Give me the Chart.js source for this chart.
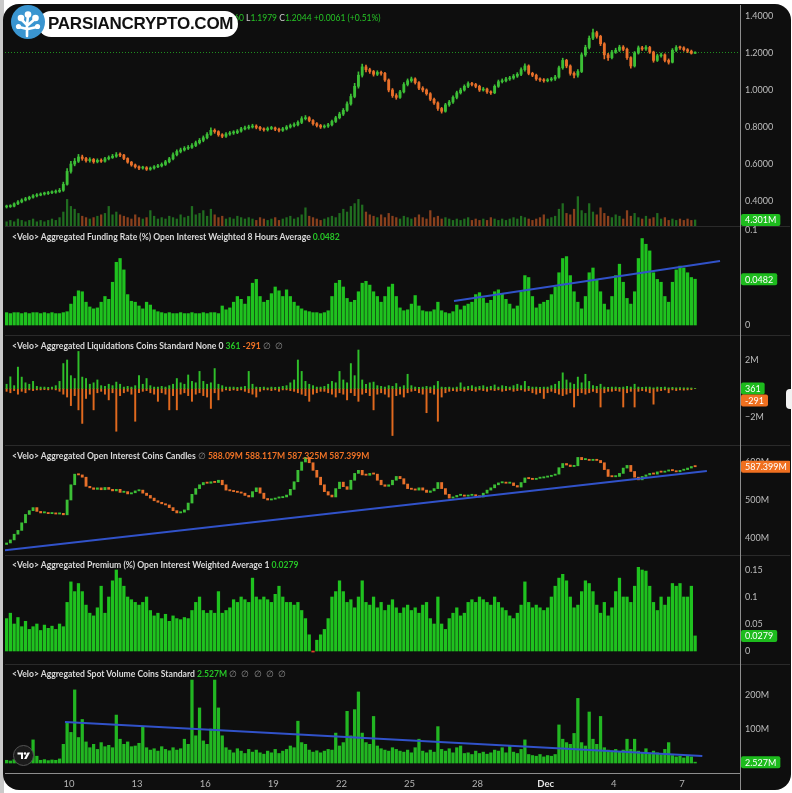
<!DOCTYPE html>
<html><head><meta charset="utf-8">
<script src="https://cdn.jsdelivr.net/npm/chart.js@4.4.1/dist/chart.umd.min.js"></script>
<style>
html,body{margin:0;padding:0}
body{width:792px;height:793px;overflow:hidden;background:#ffffff;position:relative;font-family:Lato,'Noto Sans',sans-serif}
.abs{position:absolute}
#leftStrip{left:0;top:0;width:4px;height:793px;background:#c9c9c9}
#frame{left:3px;top:4px;width:788px;height:786px;background:#0e0e0e;border-radius:16px}
.sep{left:5px;width:785px;height:1px;background:#2a2a2a}
#axisLine{left:740px;top:5px;width:1px;height:785px;background:#8d8d8d}
.pane{left:5px;width:785px}
.title{left:12px;font-size:8.6px;font-weight:700;color:#dadada;white-space:nowrap;line-height:12px}
.g{color:#26c426}.o{color:#f07326}.n{color:#8a8a8a;font-weight:400;word-spacing:2px}
.hdr{top:12px;font-size:8.5px;color:#cfcfcf;white-space:nowrap;line-height:12px}
#pill{left:38px;top:11px;width:200px;height:26px;background:#fff;border-radius:13px}
#pillText{left:48px;top:11px;height:26px;line-height:26px;font-family:'Liberation Sans',Arial,sans-serif;font-weight:700;font-size:17px;color:#111;letter-spacing:-0.25px;white-space:nowrap}
#logo{left:11px;top:5px;width:34px;height:34px}
#tv{left:13px;top:745px;width:21px;height:21px}
#tab{left:786px;top:389px;width:6px;height:20px;background:#f2f2f2;border-radius:4px 0 0 4px}
</style></head>
<body>
<div id="leftStrip" class="abs"></div>
<div id="frame" class="abs"></div>
<div class="abs sep" style="top:226px"></div>
<div class="abs sep" style="top:335px"></div>
<div class="abs sep" style="top:445px"></div>
<div class="abs sep" style="top:555px"></div>
<div class="abs sep" style="top:664px"></div>
<div id="axisLine" class="abs"></div>

<div class="abs pane" style="top:5px;height:221px"><canvas id="c1" width="785" height="221"></canvas></div>
<div class="abs pane" style="top:226px;height:109px"><canvas id="c2" width="785" height="109"></canvas></div>
<div class="abs pane" style="top:335px;height:110px"><canvas id="c3" width="785" height="110"></canvas></div>
<div class="abs pane" style="top:445px;height:110px"><canvas id="c4" width="785" height="110"></canvas></div>
<div class="abs pane" style="top:555px;height:109px"><canvas id="c5" width="785" height="109"></canvas></div>
<div class="abs pane" style="top:664px;height:126px"><canvas id="c6" width="785" height="126"></canvas></div>

<div class="abs hdr" style="right:548px"><span>O</span><span class="g" id="hO"></span> <span>H</span><span class="g" id="hH"></span></div>
<div class="abs hdr" style="left:246px"><span>L</span><span class="g" id="hL"></span> <span>C</span><span class="g" id="hC"></span> <span class="g" id="hChg"></span></div>
<div id="pill" class="abs"></div>
<div id="pillText" class="abs">PARSIANCRYPTO.COM</div>
<svg id="logo" class="abs" viewBox="0 0 34 34">
  <circle cx="17" cy="17" r="17" fill="#3a95d0"/>
  <path d="M16 31 L16 20 L10 14 M16 20 L17 11 M17 20 L24 14 M16 24 L8 22 M17 24 L26 22" stroke="#fff" stroke-width="2.6" fill="none" stroke-linecap="round"/>
  <circle cx="10" cy="13" r="3.3" fill="#fff"/><circle cx="17" cy="9.5" r="3.3" fill="#fff"/>
  <circle cx="24.5" cy="13" r="3.3" fill="#fff"/><circle cx="7.5" cy="21.5" r="2.6" fill="#fff"/>
  <circle cx="26.5" cy="21.5" r="2.6" fill="#fff"/>
</svg>

<div class="abs title" style="top:231px">&lt;Velo&gt; Aggregated Funding Rate (%) Open Interest Weighted 8 Hours Average <span class="g" id="tFund"></span></div>
<div class="abs title" style="top:340px">&lt;Velo&gt; Aggregated Liquidations Coins Standard None 0 <span class="g" id="tLiqS"></span> <span class="o" id="tLiqL"></span> <span class="n">∅ ∅</span></div>
<div class="abs title" style="top:450px">&lt;Velo&gt; Aggregated Open Interest Coins Candles <span class="n">∅</span> <span class="o" id="tOI"></span></div>
<div class="abs title" style="top:559px">&lt;Velo&gt; Aggregated Premium (%) Open Interest Weighted Average 1 <span class="g" id="tPrem"></span></div>
<div class="abs title" style="top:668px">&lt;Velo&gt; Aggregated Spot Volume Coins Standard <span class="g" id="tSpot"></span> <span class="n">∅ ∅ ∅ ∅ ∅</span></div>

<svg id="tv" class="abs" viewBox="0 0 21 21">
  <circle cx="10.5" cy="10.5" r="10" fill="#1b1b1b" stroke="#555" stroke-width="1"/>
  <path d="M4.5 7.5 H10 V14 H8 V9.5 H4.5 Z" fill="#fff"/>
  <circle cx="12" cy="8.5" r="1.3" fill="#fff"/>
  <path d="M14.5 7.5 H17 L13.5 14 H11 Z" fill="#fff"/>
</svg>
<div id="tab" class="abs"></div>

<script>
// ---------------- DATA (4-hour bars, day numbers counted from Nov 1; 31 = Dec 1) ----------------
const barStartDay = 7.25;
const barStepDays = 1 / 6;

const priceOpen = [0.368,0.370,0.372,0.385,0.395,0.405,0.412,0.420,0.428,0.432,
0.438,0.440,0.445,0.448,0.452,0.458,0.490,0.560,0.600,0.615,
0.638,0.630,0.618,0.625,0.612,0.620,0.615,0.628,0.635,0.642,
0.650,0.648,0.630,0.610,0.595,0.585,0.578,0.580,0.572,0.578,
0.585,0.590,0.598,0.612,0.628,0.650,0.668,0.676,0.685,0.690,
0.700,0.715,0.728,0.742,0.760,0.782,0.775,0.758,0.750,0.762,
0.768,0.770,0.778,0.790,0.795,0.800,0.805,0.798,0.790,0.785,
0.792,0.795,0.788,0.782,0.790,0.800,0.808,0.812,0.825,0.845,
0.850,0.835,0.818,0.808,0.800,0.805,0.812,0.830,0.850,0.870,
0.890,0.925,0.965,1.020,1.080,1.125,1.110,1.100,1.085,1.095,
1.090,1.054,1.000,0.970,0.960,0.990,1.030,1.050,1.060,1.040,
1.010,1.000,0.980,0.950,0.930,0.900,0.885,0.920,0.935,0.960,
0.985,1.000,1.020,1.035,1.030,1.020,1.000,1.005,0.990,0.985,
1.020,1.045,1.050,1.060,1.065,1.075,1.085,1.110,1.130,1.090,
1.080,1.060,1.055,1.050,1.055,1.060,1.070,1.120,1.160,1.130,
1.090,1.080,1.100,1.190,1.230,1.280,1.310,1.290,1.250,1.190,
1.175,1.205,1.215,1.232,1.220,1.175,1.130,1.200,1.228,1.222,
1.230,1.205,1.160,1.185,1.190,1.160,1.150,1.215,1.230,1.228,
1.218,1.210,1.1983];
const priceHigh = [0.378,0.380,0.390,0.402,0.412,0.420,0.426,0.435,0.440,0.444,
0.448,0.452,0.455,0.460,0.468,0.502,0.575,0.615,0.630,0.652,
0.648,0.636,0.634,0.630,0.628,0.628,0.636,0.644,0.652,0.662,
0.660,0.652,0.634,0.614,0.600,0.590,0.588,0.586,0.584,0.592,
0.598,0.606,0.620,0.636,0.660,0.676,0.686,0.694,0.700,0.710,
0.724,0.738,0.752,0.770,0.795,0.790,0.780,0.764,0.770,0.776,
0.780,0.786,0.798,0.805,0.810,0.815,0.812,0.804,0.796,0.800,
0.804,0.800,0.794,0.798,0.808,0.816,0.822,0.834,0.856,0.862,
0.856,0.840,0.824,0.814,0.812,0.820,0.838,0.858,0.880,0.900,
0.936,0.978,1.036,1.098,1.140,1.135,1.118,1.106,1.104,1.102,
1.096,1.060,1.008,0.980,0.998,1.040,1.060,1.070,1.066,1.046,
1.018,1.006,0.986,0.956,0.936,0.906,0.928,0.944,0.968,0.994,
1.010,1.028,1.044,1.042,1.036,1.026,1.014,1.010,0.996,1.028,
1.054,1.060,1.068,1.074,1.084,1.094,1.120,1.142,1.136,1.096,
1.086,1.066,1.062,1.062,1.068,1.080,1.130,1.172,1.166,1.136,
1.098,1.110,1.200,1.242,1.292,1.330,1.318,1.296,1.256,1.198,
1.214,1.226,1.242,1.240,1.226,1.180,1.208,1.238,1.236,1.240,
1.236,1.210,1.194,1.200,1.196,1.168,1.224,1.240,1.238,1.234,
1.224,1.216,1.2060];
const priceLow = [0.362,0.365,0.368,0.380,0.390,0.400,0.406,0.415,0.422,0.428,
0.432,0.435,0.440,0.442,0.446,0.452,0.485,0.550,0.590,0.608,
0.620,0.610,0.610,0.604,0.606,0.608,0.610,0.622,0.630,0.636,
0.640,0.624,0.604,0.588,0.578,0.570,0.572,0.565,0.566,0.572,
0.580,0.584,0.592,0.606,0.622,0.644,0.660,0.670,0.678,0.684,
0.694,0.708,0.720,0.736,0.754,0.766,0.750,0.742,0.744,0.755,
0.760,0.764,0.772,0.784,0.788,0.794,0.790,0.782,0.778,0.778,
0.786,0.780,0.774,0.776,0.784,0.794,0.800,0.806,0.818,0.838,
0.828,0.810,0.800,0.792,0.794,0.798,0.806,0.824,0.844,0.862,
0.884,0.918,0.958,1.010,1.070,1.098,1.090,1.075,1.078,1.080,
1.046,0.990,0.960,0.950,0.954,0.984,1.022,1.042,1.032,1.002,
0.990,0.972,0.942,0.922,0.890,0.875,0.880,0.912,0.928,0.952,
0.978,0.994,1.012,1.022,1.012,0.992,0.994,0.982,0.976,0.980,
1.014,1.038,1.044,1.052,1.058,1.068,1.078,1.102,1.082,1.072,
1.052,1.046,1.042,1.044,1.048,1.052,1.064,1.112,1.120,1.080,
1.066,1.070,1.094,1.182,1.222,1.272,1.280,1.240,1.168,1.160,
1.168,1.198,1.208,1.212,1.166,1.118,1.124,1.194,1.214,1.214,
1.198,1.150,1.154,1.178,1.152,1.140,1.146,1.208,1.220,1.210,
1.202,1.194,1.1979];
const priceClose = [0.370,0.372,0.385,0.395,0.405,0.412,0.420,0.428,0.432,0.438,
0.440,0.445,0.448,0.452,0.458,0.490,0.560,0.600,0.615,0.638,
0.630,0.618,0.625,0.612,0.620,0.615,0.628,0.635,0.642,0.650,
0.648,0.630,0.610,0.595,0.585,0.578,0.580,0.572,0.578,0.585,
0.590,0.598,0.612,0.628,0.650,0.668,0.676,0.685,0.690,0.700,
0.715,0.728,0.742,0.760,0.782,0.775,0.758,0.750,0.762,0.768,
0.770,0.778,0.790,0.795,0.800,0.805,0.798,0.790,0.785,0.792,
0.795,0.788,0.782,0.790,0.800,0.808,0.812,0.825,0.845,0.850,
0.835,0.818,0.808,0.800,0.805,0.812,0.830,0.850,0.870,0.890,
0.925,0.965,1.020,1.080,1.125,1.110,1.100,1.085,1.095,1.090,
1.054,1.000,0.970,0.960,0.990,1.030,1.050,1.060,1.040,1.010,
1.000,0.980,0.950,0.930,0.900,0.885,0.920,0.935,0.960,0.985,
1.000,1.020,1.035,1.030,1.020,1.000,1.005,0.990,0.985,1.020,
1.045,1.050,1.060,1.065,1.075,1.085,1.110,1.130,1.090,1.080,
1.060,1.055,1.050,1.055,1.060,1.070,1.120,1.160,1.130,1.090,
1.080,1.100,1.190,1.230,1.280,1.310,1.290,1.250,1.190,1.175,
1.205,1.215,1.232,1.220,1.175,1.130,1.200,1.228,1.222,1.230,
1.205,1.160,1.185,1.190,1.160,1.150,1.215,1.230,1.228,1.218,
1.210,1.1983,1.2044];
// volume in millions
const priceVolume = [3,4,3,5,4,3,4,5,3,4,
3,4,5,4,6,10,19,14,12,9,
7,6,5,6,7,8,9,14,8,10,
8,7,6,5,8,6,5,6,11,7,
5,6,5,7,6,5,8,6,7,14,
8,9,11,7,12,8,6,7,5,6,
5,7,6,5,6,5,4,6,5,4,
5,6,4,5,6,7,5,6,8,13,
7,6,5,4,5,6,7,6,9,12,
10,14,16,19,15,10,8,7,6,8,
6,9,7,6,5,7,6,5,6,8,
6,5,11,6,7,5,6,5,4,5,
4,5,6,4,5,4,5,4,6,5,
4,5,4,5,6,5,7,6,5,4,
5,6,8,5,6,7,12,16,9,8,
12,21,11,9,16,10,8,13,9,7,
6,8,7,5,11,7,9,6,5,7,
5,6,9,5,6,4,5,4,5,4,
5,4,4.301];
const fundingRate = [0.013,0.012,0.013,0.013,0.012,0.013,0.012,0.013,0.013,0.012,
0.013,0.012,0.013,0.012,0.012,0.013,0.014,0.022,0.030,0.036,
0.035,0.024,0.019,0.017,0.018,0.024,0.030,0.027,0.045,0.066,
0.070,0.058,0.032,0.025,0.024,0.020,0.017,0.024,0.021,0.016,
0.014,0.013,0.012,0.013,0.012,0.012,0.013,0.012,0.012,0.013,
0.012,0.012,0.013,0.012,0.013,0.013,0.012,0.020,0.016,0.018,
0.024,0.030,0.027,0.022,0.030,0.044,0.048,0.030,0.024,0.026,
0.033,0.040,0.036,0.030,0.037,0.030,0.024,0.020,0.017,0.015,
0.014,0.013,0.013,0.012,0.013,0.015,0.030,0.044,0.047,0.040,
0.028,0.024,0.026,0.035,0.044,0.046,0.042,0.035,0.030,0.024,
0.030,0.040,0.043,0.030,0.018,0.015,0.016,0.022,0.031,0.020,
0.015,0.014,0.014,0.016,0.024,0.015,0.013,0.012,0.014,0.021,
0.016,0.020,0.022,0.024,0.032,0.034,0.028,0.023,0.026,0.035,
0.037,0.033,0.027,0.022,0.017,0.020,0.035,0.052,0.050,0.030,
0.018,0.022,0.024,0.026,0.032,0.040,0.055,0.070,0.072,0.052,
0.035,0.024,0.017,0.030,0.055,0.060,0.048,0.035,0.022,0.016,
0.030,0.052,0.064,0.045,0.028,0.022,0.035,0.070,0.091,0.085,
0.078,0.055,0.048,0.045,0.030,0.024,0.045,0.058,0.062,0.060,
0.055,0.050,0.0482];
// liquidations in millions of coins (shorts positive, longs negative)
const liqShorts = [0.3,0.82,0.2,1.5,0.8,0.4,0.3,0.5,0.15,0.1,
0.1,0.08,0.1,0.2,0.5,1.75,2.0,0.9,0.7,2.6,
0.8,0.7,0.3,0.4,0.6,0.2,0.15,0.3,0.2,0.45,
0.3,0.1,0.15,0.1,0.2,0.9,0.3,0.7,0.2,0.1,
0.1,0.15,0.1,0.2,0.3,0.7,0.4,0.3,0.95,0.5,
0.4,1.2,0.5,0.3,0.4,1.4,0.3,0.2,0.1,0.1,
0.1,0.08,0.1,0.15,1.2,0.3,0.1,0.08,0.1,0.05,
0.1,0.08,0.1,0.15,0.2,0.4,0.6,2.0,1.2,0.5,
0.3,0.2,0.1,0.1,0.15,0.3,0.5,0.4,1.2,0.6,
0.4,1.75,0.9,2.7,0.6,0.3,0.4,0.45,0.2,0.15,
0.1,0.2,0.15,0.35,0.1,0.2,1.0,0.2,0.1,0.08,
0.1,0.15,0.1,0.2,0.5,0.1,0.08,0.1,0.05,0.1,
0.4,0.1,0.15,0.2,0.1,0.15,0.2,0.1,0.15,0.25,
0.1,0.2,0.15,0.1,0.2,0.3,0.2,0.5,0.15,0.1,
0.1,0.08,0.1,0.1,0.2,0.3,0.5,1.1,0.6,0.4,
0.3,0.8,0.4,1.0,0.5,0.2,0.15,0.3,0.1,0.08,
0.1,0.1,0.08,0.1,0.15,0.1,0.3,0.1,0.08,0.1,
0.1,0.05,0.1,0.08,0.1,0.05,0.08,0.05,0.06,0.05,
0.05,0.04,0.000361];
const liqLongs = [-0.2,-0.3,-0.15,-0.4,-0.2,-0.3,-0.1,-0.15,-0.1,-0.1,
-0.08,-0.1,-0.05,-0.1,-0.2,-0.4,-0.6,-1.2,-0.5,-1.5,
-2.45,-0.7,-0.4,-1.5,-0.3,-0.2,-0.4,-0.8,-0.3,-3.0,
-0.5,-0.3,-0.2,-0.4,-2.3,-0.3,-0.2,-0.15,-0.3,-0.4,
-0.9,-0.3,-0.4,-1.5,-0.5,-1.5,-0.4,-0.3,-0.5,-0.9,
-0.4,-0.3,-0.5,-0.6,-1.4,-0.3,-0.8,-0.2,-0.1,-0.15,
-0.1,-0.15,-0.1,-0.2,-0.3,-0.4,-0.6,-0.2,-0.1,-0.1,
-0.15,-0.1,-0.2,-0.1,-0.1,-0.15,-0.2,-0.3,-0.4,-0.5,
-0.9,-0.4,-0.3,-0.2,-0.2,-0.3,-0.4,-0.6,-0.3,-0.4,
-0.8,-0.3,-0.5,-0.9,-0.4,-0.3,-0.5,-1.5,-0.4,-0.3,
-0.4,-0.6,-3.3,-0.5,-0.4,-0.6,-0.3,-0.2,-0.15,-0.3,
-0.4,-1.7,-0.3,-0.4,-2.3,-0.6,-0.3,-0.2,-0.15,-0.2,
-0.15,-0.2,-0.1,-0.15,-0.2,-0.1,-0.15,-0.2,-0.1,-0.15,
-0.1,-0.2,-0.15,-0.1,-0.2,-0.15,-0.1,-0.2,-0.15,-0.3,
-0.4,-0.3,-0.7,-0.3,-0.2,-0.3,-0.4,-0.5,-0.4,-0.3,
-1.3,-0.5,-0.3,-0.4,-0.3,-0.2,-0.3,-1.3,-0.3,-0.2,
-0.2,-0.15,-0.2,-1.3,-0.3,-0.2,-1.3,-0.2,-0.15,-0.2,
-0.3,-1.1,-0.2,-0.15,-0.1,-0.3,-0.1,-0.15,-0.1,-0.12,
-0.1,-0.08,-0.000291];
// open interest in millions of coins
const oiOpen = [383,387,395,410,420,440,462,472,480,470,
466,467,464,466,463,465,461,500,540,568,
566,560,536,532,528,532,527,533,528,524,
528,520,522,516,519,524,526,518,512,505,
498,494,490,487,480,472,466,468,474,492,
515,530,540,546,544,548,546,552,540,526,
524,522,520,518,512,508,522,532,518,504,
500,502,505,506,508,513,528,548,578,600,
612,598,578,560,540,522,513,508,530,547,
535,528,552,570,578,566,565,570,568,552,
540,536,540,552,562,556,542,530,528,526,
532,526,520,524,530,546,530,515,505,508,
512,513,510,512,514,510,508,518,526,532,
540,545,546,544,545,538,534,546,558,556,
554,557,558,560,562,565,568,585,596,592,
588,590,612,606,606,604,605,604,598,580,
562,561,562,570,584,591,575,560,553,562,
566,570,568,574,573,576,579,577,574,578,
580,584,588.09];
const oiClose = [387,395,410,420,440,462,472,480,470,466,
467,464,466,463,465,461,500,540,568,566,
560,536,532,528,532,527,533,528,524,528,
520,522,516,519,524,526,518,512,505,498,
494,490,487,480,472,466,468,474,492,515,
530,540,546,544,548,546,552,540,526,524,
522,520,518,512,508,522,532,518,504,500,
502,505,506,508,513,528,548,578,600,612,
598,578,560,540,522,513,508,530,547,535,
528,552,570,578,566,565,570,568,552,540,
536,540,552,562,556,542,530,528,526,532,
526,520,524,530,546,530,515,505,508,512,
513,510,512,514,510,508,518,526,532,540,
545,546,544,545,538,534,546,558,556,554,
557,558,560,562,565,568,585,596,592,588,
590,612,606,606,604,605,604,598,580,562,
561,562,570,584,591,575,560,553,562,566,
570,568,574,573,576,579,577,574,578,580,
584,588.09,587.399];
const oiLastHigh = 588.117, oiLastLow = 587.325;
const premium = [0.060,0.070,0.050,0.062,0.045,0.055,0.040,0.045,0.050,0.038,
0.048,0.042,0.046,0.040,0.050,0.045,0.090,0.128,0.110,0.125,
0.110,0.085,0.070,0.065,0.080,0.120,0.070,0.100,0.130,0.150,
0.135,0.120,0.100,0.095,0.090,0.085,0.090,0.100,0.075,0.065,
0.070,0.060,0.068,0.055,0.065,0.060,0.058,0.062,0.060,0.075,
0.090,0.100,0.075,0.070,0.075,0.070,0.110,0.070,0.075,0.080,
0.095,0.090,0.100,0.095,0.090,0.135,0.100,0.095,0.100,0.095,
0.090,0.105,0.120,0.100,0.090,0.090,0.085,0.090,0.075,0.060,
0.030,-0.002,0.020,0.030,0.040,0.060,0.100,0.110,0.130,0.110,
0.090,0.095,0.080,0.100,0.130,0.090,0.085,0.100,0.080,0.090,
0.075,0.085,0.095,0.080,0.070,0.080,0.085,0.075,0.080,0.070,
0.085,0.090,0.060,0.050,0.100,0.050,0.040,0.060,0.070,0.080,
0.065,0.070,0.090,0.095,0.090,0.100,0.095,0.090,0.085,0.100,
0.090,0.080,0.075,0.065,0.060,0.070,0.085,0.128,0.090,0.080,
0.085,0.080,0.075,0.080,0.100,0.120,0.135,0.142,0.130,0.100,
0.080,0.085,0.110,0.130,0.125,0.110,0.085,0.070,0.090,0.065,
0.080,0.110,0.135,0.100,0.100,0.090,0.120,0.155,0.150,0.148,
0.120,0.090,0.075,0.100,0.085,0.100,0.125,0.120,0.125,0.100,
0.100,0.120,0.0279];
// spot volume in millions of coins
const spotVolume = [8,6,10,7,12,9,25,68,20,8,
10,7,9,8,12,55,118,90,215,75,
128,62,45,55,40,60,48,52,45,141,
70,55,62,48,50,58,106,45,38,42,
35,48,40,36,45,38,42,70,55,244,
80,162,65,55,100,244,162,80,45,38,
30,42,35,28,40,32,38,30,26,35,
30,40,28,35,40,50,45,123,60,55,
38,32,36,30,35,40,38,88,50,60,
152,80,157,209,88,60,55,137,50,42,
38,35,45,40,35,32,38,30,45,70,
35,30,38,32,107,40,35,42,30,45,
50,28,30,25,35,28,32,26,30,38,
35,45,30,50,32,28,40,68,25,22,
20,25,18,22,20,25,112,70,60,55,
87,190,60,50,150,70,55,137,45,38,
35,40,32,38,70,40,70,35,30,42,
28,35,30,25,40,60,22,18,20,15,
22,18,2.527];
// hand-drawn trend lines: [day, value]
const fundingTrend = [[26.96, 0.0253], [38.68, 0.0674]];
const oiTrend = [[7.18, 368], [38.1, 576]];
const spotTrend = [[9.82, 120.6], [37.9, 20.6]];
// x axis ticks
const xTickDays = [10, 13, 16, 19, 22, 25, 28, 31, 34, 37];
const xTickLabels = ['10', '13', '16', '19', '22', '25', '28', 'Dec', '4', '7'];

// ---------------- RENDERING ----------------
const FONT = "Lato, 'Noto Sans', sans-serif";
const UP = '#3cbf36', DOWN = '#e8702a';
const HIST = '#1fc21f', TREND = '#3152c9';
const X_MIN = 7.18, X_MAX = 39.56;
const N = priceClose.length;
const day = i => barStartDay + i * barStepDays;
const pts = arr => arr.map((v, i) => ({x: day(i), y: v}));
const trendPts = arr => arr.map(p => ({x: p[0], y: p[1]}));
const last = a => a[a.length - 1];

function fmtM(v) { return (v < 0 ? '\u2212' + Math.abs(v) : v) + 'M'; }

const paneExtras = {
  id: 'paneExtras',
  beforeDatasetsDraw(chart, args, opts) {
    if (!opts || !opts.priceLine) return;
    const {ctx, chartArea: a} = chart;
    const y = Math.round(chart.scales.y.getPixelForValue(opts.priceLine.value)) + 0.5;
    ctx.save();
    ctx.strokeStyle = opts.priceLine.color; ctx.lineWidth = 1; ctx.setLineDash([1, 2]);
    ctx.beginPath(); ctx.moveTo(a.left, y); ctx.lineTo(a.right, y); ctx.stroke();
    ctx.restore();
  },
  afterDraw(chart, args, opts) {
    if (!opts || !opts.tags) return;
    const {ctx, chartArea: a} = chart;
    ctx.save();
    ctx.font = '9px ' + FONT;
    let prevBottom = -1e9;
    opts.tags.forEach(t => {
      const sc = chart.scales[t.axis || 'y'];
      let yc = sc.getPixelForValue(t.value);
      const h = 12;
      yc = Math.min(Math.max(yc, a.top + h / 2), a.bottom - h / 2);
      if (yc - h / 2 < prevBottom) yc = prevBottom + h / 2;
      prevBottom = yc + h / 2;
      const w = ctx.measureText(t.text).width + 8;
      const x = a.right + 1;
      ctx.fillStyle = t.bg;
      ctx.beginPath(); ctx.roundRect(x, yc - h / 2, w, h, 2); ctx.fill();
      ctx.fillStyle = '#ffffff'; ctx.textBaseline = 'middle'; ctx.textAlign = 'left';
      ctx.fillText(t.text, x + 4, yc + 0.5);
    });
    ctx.restore();
  }
};
Chart.register(paneExtras);
Chart.defaults.font.family = FONT;

function xAxis(show) {
  return {
    type: 'linear', min: X_MIN, max: X_MAX, display: show, offset: false,
    grid: {display: false, drawTicks: false, offset: false},
    border: {display: show, color: '#8d8d8d'},
    ticks: {
      autoSkip: false, maxRotation: 0, padding: 5,
      color: c => (c.tick && c.tick.value === 31) ? '#e6e6e6' : '#b3b3b3',
      font: c => ({size: 9.5, family: FONT, weight: (c.tick && c.tick.value === 31) ? 'bold' : 'normal'}),
      callback: (v, i) => xTickLabels[i]
    },
    afterBuildTicks: s => { s.ticks = xTickDays.map(v => ({value: v})); },
    afterFit: s => { if (show) s.height = 17; s.paddingLeft = 0; s.paddingRight = 0; }
  };
}
function yAxis(min, max, ticks, fmt) {
  return {
    type: 'linear', position: 'right', min, max,
    grid: {display: false, drawTicks: false}, border: {display: false},
    ticks: {color: '#bdbdbd', font: {size: 9, family: FONT}, padding: 5, callback: v => fmt(v)},
    afterBuildTicks: s => { s.ticks = ticks.map(v => ({value: v})); },
    afterFit: s => { s.width = 50; s.paddingTop = 0; s.paddingBottom = 0; }
  };
}
function baseOptions(scales, extras) {
  return {
    responsive: false, animation: false, devicePixelRatio: 1,
    layout: {padding: 0},
    plugins: {legend: {display: false}, tooltip: {enabled: false}, paneExtras: extras || {}},
    scales
  };
}
const trendDs = (arr) => ({type: 'line', data: trendPts(arr), borderColor: TREND, borderWidth: 2, pointRadius: 0, order: 0});

// Pane 1: price candles + volume
const candleColor = (o, c) => ctx => c[ctx.dataIndex] >= o[ctx.dataIndex] ? UP : DOWN;
new Chart(document.getElementById('c1'), {
  type: 'bar',
  data: {datasets: [
    {data: priceClose.map((c, i) => ({x: day(i), y: [priceOpen[i], c]})), backgroundColor: candleColor(priceOpen, priceClose),
     barThickness: 2.2, minBarLength: 1, grouped: false, order: 1},
    {data: priceHigh.map((h, i) => ({x: day(i), y: [priceLow[i], h]})), backgroundColor: candleColor(priceOpen, priceClose),
     barThickness: 1, grouped: false, order: 2},
    {data: pts(priceVolume), yAxisID: 'yv',
     backgroundColor: ctx => priceClose[ctx.dataIndex] >= priceOpen[ctx.dataIndex] ? 'rgba(40,150,40,0.7)' : 'rgba(190,85,35,0.7)',
     barThickness: 1.6, grouped: false, order: 3}
  ]},
  options: baseOptions({
    x: xAxis(false),
    y: yAxis(0.2649, 1.4595, [0.4, 0.6, 0.8, 1.0, 1.2, 1.4], v => v.toFixed(4)),
    yv: {type: 'linear', display: false, min: 0, max: 158}
  }, {
    priceLine: {value: last(priceClose), color: '#1f8f1f'},
    tags: [
      {axis: 'yv', value: last(priceVolume), text: last(priceVolume) + 'M', bg: '#1dbb1d'},
      {axis: 'y', value: last(priceClose), text: last(priceClose).toFixed(4), bg: '#1dbb1d'}
    ]
  })
});

// Pane 2: funding
new Chart(document.getElementById('c2'), {
  type: 'bar',
  data: {datasets: [
    trendDs(fundingTrend),
    {data: pts(fundingRate), backgroundColor: HIST, barThickness: 2.6, grouped: false, order: 1}
  ]},
  options: baseOptions({x: xAxis(false), y: yAxis(-0.01053, 0.1042, [0, 0.1], v => String(v))},
    {tags: [{value: last(fundingRate), text: last(fundingRate).toFixed(4), bg: '#1dbb1d'}]})
});

// Pane 3: liquidations
new Chart(document.getElementById('c3'), {
  type: 'bar',
  data: {datasets: [
    {data: pts(liqShorts), backgroundColor: '#2fbf2a', barThickness: 1.3, grouped: false},
    {data: pts(liqLongs), backgroundColor: '#e0691e', barThickness: 1.3, grouped: false}
  ]},
  options: baseOptions({x: xAxis(false), y: yAxis(-3.965, 3.754, [-2, 2], fmtM)},
    {tags: [
      {value: last(liqShorts), text: String(Math.round(last(liqShorts) * 1e6)), bg: '#1dbb1d'},
      {value: last(liqLongs), text: String(Math.round(last(liqLongs) * 1e6)), bg: '#f07020'}
    ]})
});

// Pane 4: open interest candles
new Chart(document.getElementById('c4'), {
  type: 'bar',
  data: {datasets: [
    trendDs(oiTrend),
    {data: oiClose.map((c, i) => ({x: day(i), y: [oiOpen[i], c]})), backgroundColor: candleColor(oiOpen, oiClose),
     barThickness: 2.2, minBarLength: 1.2, grouped: false, order: 1}
  ]},
  options: baseOptions({x: xAxis(false), y: yAxis(355.3, 644.7, [400, 500, 600], v => v + 'M')},
    {tags: [{value: last(oiClose), text: last(oiClose).toFixed(3) + 'M', bg: '#f07020'}]})
});

// Pane 5: premium
new Chart(document.getElementById('c5'), {
  type: 'bar',
  data: {datasets: [
    {data: pts(premium), backgroundColor: ctx => premium[ctx.dataIndex] >= 0 ? HIST : '#e0402a', barThickness: 2.6, grouped: false}
  ]},
  options: baseOptions({x: xAxis(false), y: yAxis(-0.0241, 0.1778, [0, 0.05, 0.1, 0.15], v => String(v))},
    {tags: [{value: last(premium), text: last(premium).toFixed(4), bg: '#1dbb1d'}]})
});

// Pane 6: spot volume (with x axis)
new Chart(document.getElementById('c6'), {
  type: 'bar',
  data: {datasets: [
    trendDs(spotTrend),
    {data: pts(spotVolume), backgroundColor: '#22b622', barThickness: 2.6, grouped: false, order: 1}
  ]},
  options: baseOptions({x: xAxis(true), y: yAxis(-29.4, 291.2, [100, 200], v => v + 'M')},
    {tags: [{value: last(spotVolume), text: last(spotVolume) + 'M', bg: '#1dbb1d'}]})
});

// Text values in headers
document.getElementById('hO').textContent = priceOpen[N - 1].toFixed(4);
document.getElementById('hH').textContent = last(priceHigh).toFixed(4);
document.getElementById('hL').textContent = last(priceLow).toFixed(4);
document.getElementById('hC').textContent = last(priceClose).toFixed(4);
const chg = last(priceClose) - priceClose[N - 2];
document.getElementById('hChg').textContent = '+' + chg.toFixed(4) + ' (+' + (chg / priceClose[N - 2] * 100).toFixed(2) + '%)';
document.getElementById('tFund').textContent = last(fundingRate).toFixed(4);
document.getElementById('tLiqS').textContent = Math.round(last(liqShorts) * 1e6);
document.getElementById('tLiqL').textContent = Math.round(last(liqLongs) * 1e6);
document.getElementById('tOI').textContent = oiOpen[N - 1] + 'M ' + oiLastHigh + 'M ' + oiLastLow + 'M ' + last(oiClose) + 'M';
document.getElementById('tPrem').textContent = last(premium).toFixed(4);
document.getElementById('tSpot').textContent = last(spotVolume) + 'M';
</script>
</body></html>
